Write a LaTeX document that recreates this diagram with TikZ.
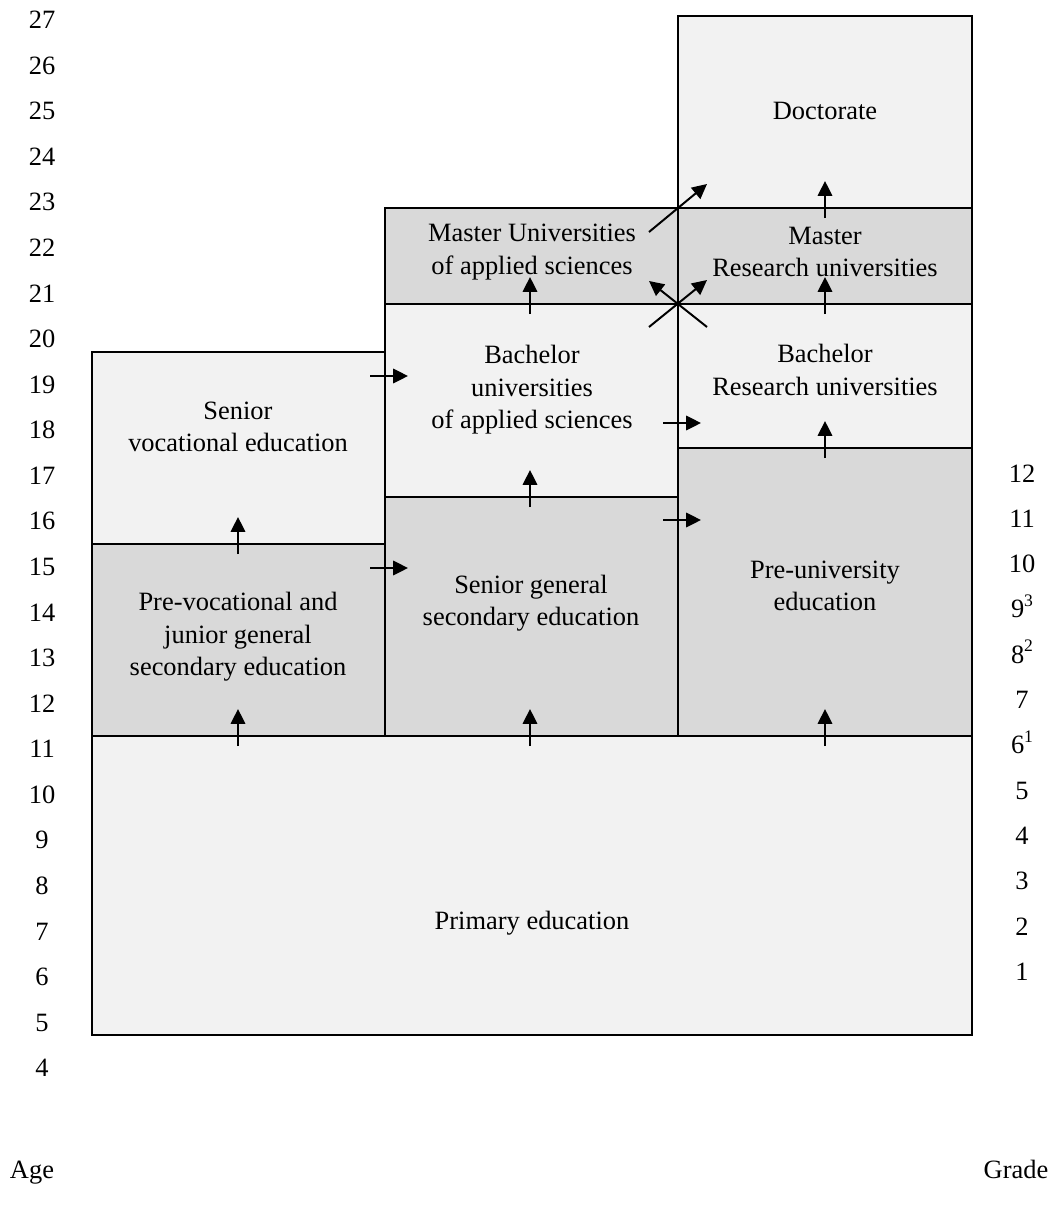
\documentclass[tikz,border=0pt]{standalone}
\usepackage{fontspec}
\setmainfont{Liberation Serif}
\usepackage{xcolor}
\definecolor{pale}{HTML}{F2F2F2}
\definecolor{shade}{HTML}{D9D9D9}
\usepackage{tikz}
\usetikzlibrary{arrows.meta, positioning, calc}

\newcommand{\supnum}[1]{\raisebox{0.95ex}{\fontsize{12.5}{12.5}\selectfont #1}}

\begin{document}
\begin{tikzpicture}[
        x=0.025cm, y=-0.025cm,
        palebox/.style={draw=black, fill=pale, line width=1.4pt},
        shadebox/.style={draw=black, fill=shade, line width=1.4pt},
        label/.style={align=center, inner sep=0pt, font=\fontsize{18.8}{23.1}\selectfont},
        flow/.style={-{Triangle[length=0.37cm, width=0.36cm]}, line width=1.4pt}
    ]
        \useasboundingbox (0,0) rectangle (1052,1209);

        % stages
        \draw[palebox] (92,736) rectangle (972,1035);
        \draw[shadebox] (92,544) rectangle (385,736);
        \draw[palebox] (92,352) rectangle (385,544);
        \draw[shadebox] (385,497) rectangle (678,736);
        \draw[palebox] (385,304) rectangle (678,497);
        \draw[shadebox] (385,208) rectangle (678,304);
        \draw[shadebox] (678,448) rectangle (972,736);
        \draw[palebox] (678,304) rectangle (972,448);
        \draw[shadebox] (678,208) rectangle (972,304);
        \draw[palebox] (678,16) rectangle (972,208);

        \node[label] (primary) at (532,923) {Primary education};
        \node[label] (prevoc) at (238,637) {Pre-vocational and\\junior general\\secondary education};
        \node[label] (seniorvoc) at (238,427) {Senior\\vocational education};
        \node[label] (seniorgen) at (531,603) {Senior general\\secondary education};
        \node[label] (bachuas) at (532,390) {Bachelor\\universities\\of applied sciences};
        \node[label] (masteruas) at (532,252) {Master Universities\\of applied sciences};
        \node[label] (preuni) at (825,586) {Pre-university\\education};
        \node[label] (bachru) at (825,370) {Bachelor\\Research universities};
        \node[label] (masterru) at (825,252) {Master\\Research universities};
        \node[label] (doctorate) at (825,111) {Doctorate};

        % age and grade scales
        \foreach \a in {4,...,27} {
            \node[label] (age\a) at (42,{20+(27-\a)*45.57}) {\a};
        }
        \foreach \g/\txt in {12/12,11/11,10/10,9/9\supnum{3},8/8\supnum{2},7/7,6/6\supnum{1},5/5,4/4,3/3,2/2,1/1} {
            \node[label, anchor=base] (grade\g) at (1022,{482+(12-\g)*45.3}) {\txt};
        }
        \node[label, anchor=base] (agehead) at (32,1178) {Age};
        \node[label, anchor=base] (gradehead) at (1016,1178) {Grade};

        % transitions
        \foreach \x/\y in {238/736,530/736,825/736,238/544,530/497,825/448,530/304,825/304,825/208} {
            \draw[flow] (\x,\y+10) -- (\x,\y-27);
        }
        \foreach \x/\y in {385/376,385/568,678/423,678/520} {
            \draw[flow] (\x-15,\y) -- (\x+23,\y);
        }
        \draw[flow] (707,327) -- (649,281);
        \draw[flow] (649,327) -- (707,280);
        \draw[flow] (649,232) -- (707,184);
    \end{tikzpicture}
\end{document}
